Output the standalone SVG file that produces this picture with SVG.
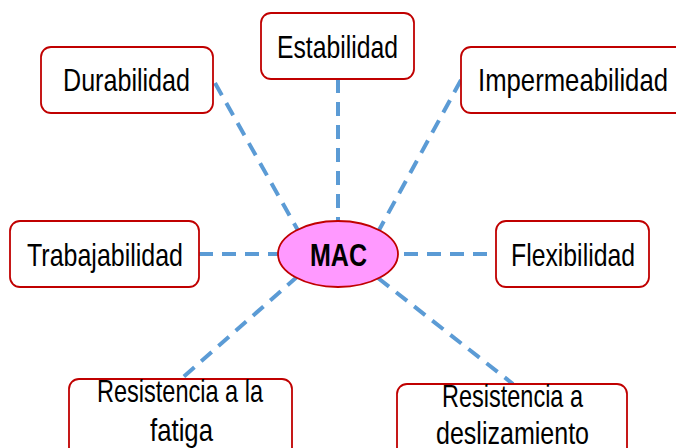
<svg xmlns="http://www.w3.org/2000/svg" width="676" height="448" viewBox="0 0 676 448">
<style>
.box{fill:#fff;stroke:#C00000;stroke-width:1.8}
.t{font-family:"Liberation Sans",Arial,sans-serif;font-size:32px;fill:#000}
.c{stroke:#5B9BD5;stroke-width:4;stroke-dasharray:14 9;fill:none}
</style>
<rect width="676" height="448" fill="#fff"/>
<g id="connectors">
<line class="c" x1="215" y1="83" x2="300" y2="234"/>
<line class="c" x1="338" y1="79" x2="338" y2="222"/>
<line class="c" x1="461" y1="80" x2="378" y2="232"/>
<line class="c" x1="199" y1="254" x2="279" y2="254"/>
<line class="c" x1="404" y1="254" x2="496" y2="254"/>
<line class="c" x1="298" y1="276" x2="181" y2="379"/>
<line class="c" x1="378" y1="278" x2="513" y2="384"/>
</g>
<g id="durabilidad">
<rect class="box" x="41" y="47" width="172" height="66" rx="10"/>
<text class="t" x="63" y="91" textLength="127" lengthAdjust="spacingAndGlyphs">Durabilidad</text>
</g>
<g id="estabilidad">
<rect class="box" x="261" y="13" width="153" height="66" rx="10"/>
<text class="t" x="277" y="58" textLength="121" lengthAdjust="spacingAndGlyphs">Estabilidad</text>
</g>
<g id="impermeabilidad">
<rect class="box" x="461" y="47" width="230" height="66" rx="10"/>
<text class="t" x="478" y="91" textLength="190" lengthAdjust="spacingAndGlyphs">Impermeabilidad</text>
</g>
<g id="trabajabilidad">
<rect class="box" x="10" y="221" width="189" height="66" rx="10"/>
<text class="t" x="27" y="266" textLength="156" lengthAdjust="spacingAndGlyphs">Trabajabilidad</text>
</g>
<g id="mac">
<ellipse cx="338" cy="254" rx="60" ry="33" fill="#FF99FF" stroke="#C00000" stroke-width="1.8"/>
<text class="t" x="310" y="266" font-weight="bold" textLength="57" lengthAdjust="spacingAndGlyphs">MAC</text>
</g>
<g id="flexibilidad">
<rect class="box" x="496" y="221" width="153" height="66" rx="10"/>
<text class="t" x="511" y="266" textLength="124" lengthAdjust="spacingAndGlyphs">Flexibilidad</text>
</g>
<g id="fatiga">
<rect class="box" x="69" y="379" width="223" height="80" rx="10"/>
<text class="t" x="97" y="402" textLength="166" lengthAdjust="spacingAndGlyphs">Resistencia a la</text>
<text class="t" x="150" y="441" textLength="63" lengthAdjust="spacingAndGlyphs">fatiga</text>
</g>
<g id="deslizamiento">
<rect class="box" x="397" y="384" width="230" height="80" rx="10"/>
<text class="t" x="442" y="407" textLength="141" lengthAdjust="spacingAndGlyphs">Resistencia a</text>
<text class="t" x="436" y="444" textLength="153" lengthAdjust="spacingAndGlyphs">deslizamiento</text>
</g>
</svg>
